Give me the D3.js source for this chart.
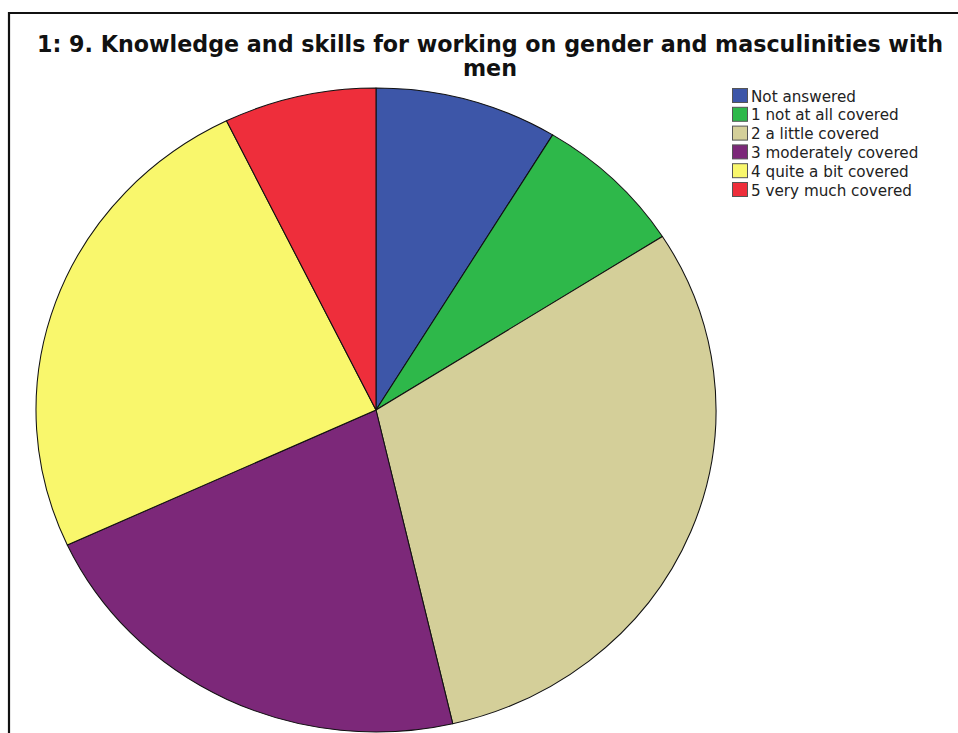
<!DOCTYPE html>
<html>
<head>
<meta charset="utf-8">
<script src="https://cdn.jsdelivr.net/npm/d3@7"></script>
<style>
  body { margin: 0; background: #fff; }
  svg { display: block; }
</style>
</head>
<body>
<svg id="chart" width="958" height="733"></svg>
<script>
// chart data (counts)
var categories = ["Not answered", "1 not at all covered", "2 a little covered",
                  "3 moderately covered", "4 quite a bit covered", "5 very much covered"];
var counts = [6, 5, 21, 15, 17, 5];
var colors = ["#3d56a8", "#2eb84a", "#d4cf99", "#7c2879", "#f9f76c", "#ee2e3b"];
var titleLines = ["1: 9. Knowledge and skills for working on gender and masculinities with", "men"];

var svg = d3.select('#chart');
var W = 958, H = 733;

// frame (top + left edge only, the rest is cropped off)
svg.append('path')
    .attr('d', 'M9,' + H + 'V13H' + W)
    .attr('fill', 'none')
    .attr('stroke', '#111')
    .attr('stroke-width', 2.2);

// title
var title = svg.append('text')
    .attr('x', 490)
    .attr('text-anchor', 'middle')
    .attr('font-family', 'DejaVu Sans, Verdana, sans-serif')
    .attr('font-weight', 'bold')
    .attr('font-size', 21)
    .attr('fill', '#111');
title.selectAll('tspan')
    .data(titleLines)
    .enter().append('tspan')
    .attr('x', 490)
    .attr('y', function (d, i) { return 52 + i * 24; })
    .text(function (d) { return d; });
// fit first line to the width it has in the picture
var w0 = title.select('tspan').node().getComputedTextLength();
var fs = Math.min(23, 21 * 906 / w0);
title.attr('font-size', fs);

// pie (picture is a bit stretched horizontally, so scale x)
var cx = 376, cy = 410, ry = 322, rx = 340;
var pie = d3.pie().sort(null).value(function (d) { return d; });
var arc = d3.arc().innerRadius(0).outerRadius(ry);
var color = d3.scaleOrdinal().domain(categories).range(colors);

var g = svg.append('g')
    .attr('transform', 'translate(' + cx + ',' + cy + ') scale(' + (rx / ry) + ',1)');
g.selectAll('path')
    .data(pie(counts))
    .enter().append('path')
    .attr('d', arc)
    .attr('fill', function (d, i) { return color(categories[i]); })
    .attr('stroke', '#111')
    .attr('stroke-width', 1)
    .attr('stroke-linejoin', 'round');

// legend
var legend = svg.append('g').attr('transform', 'translate(732,88)');
var rows = legend.selectAll('g')
    .data(categories)
    .enter().append('g')
    .attr('transform', function (d, i) { return 'translate(0,' + (i * 18.8) + ')'; });
rows.append('rect')
    .attr('x', 0.5)
    .attr('y', 0.5)
    .attr('width', 15)
    .attr('height', 14)
    .attr('fill', function (d) { return color(d); })
    .attr('stroke', '#555')
    .attr('stroke-width', 1);
rows.append('text')
    .attr('x', 19)
    .attr('y', 13.5)
    .attr('font-family', 'DejaVu Sans, Verdana, sans-serif')
    .attr('font-size', 15.2)
    .attr('fill', '#222')
    .text(function (d) { return d; });
</script>
</body>
</html>
